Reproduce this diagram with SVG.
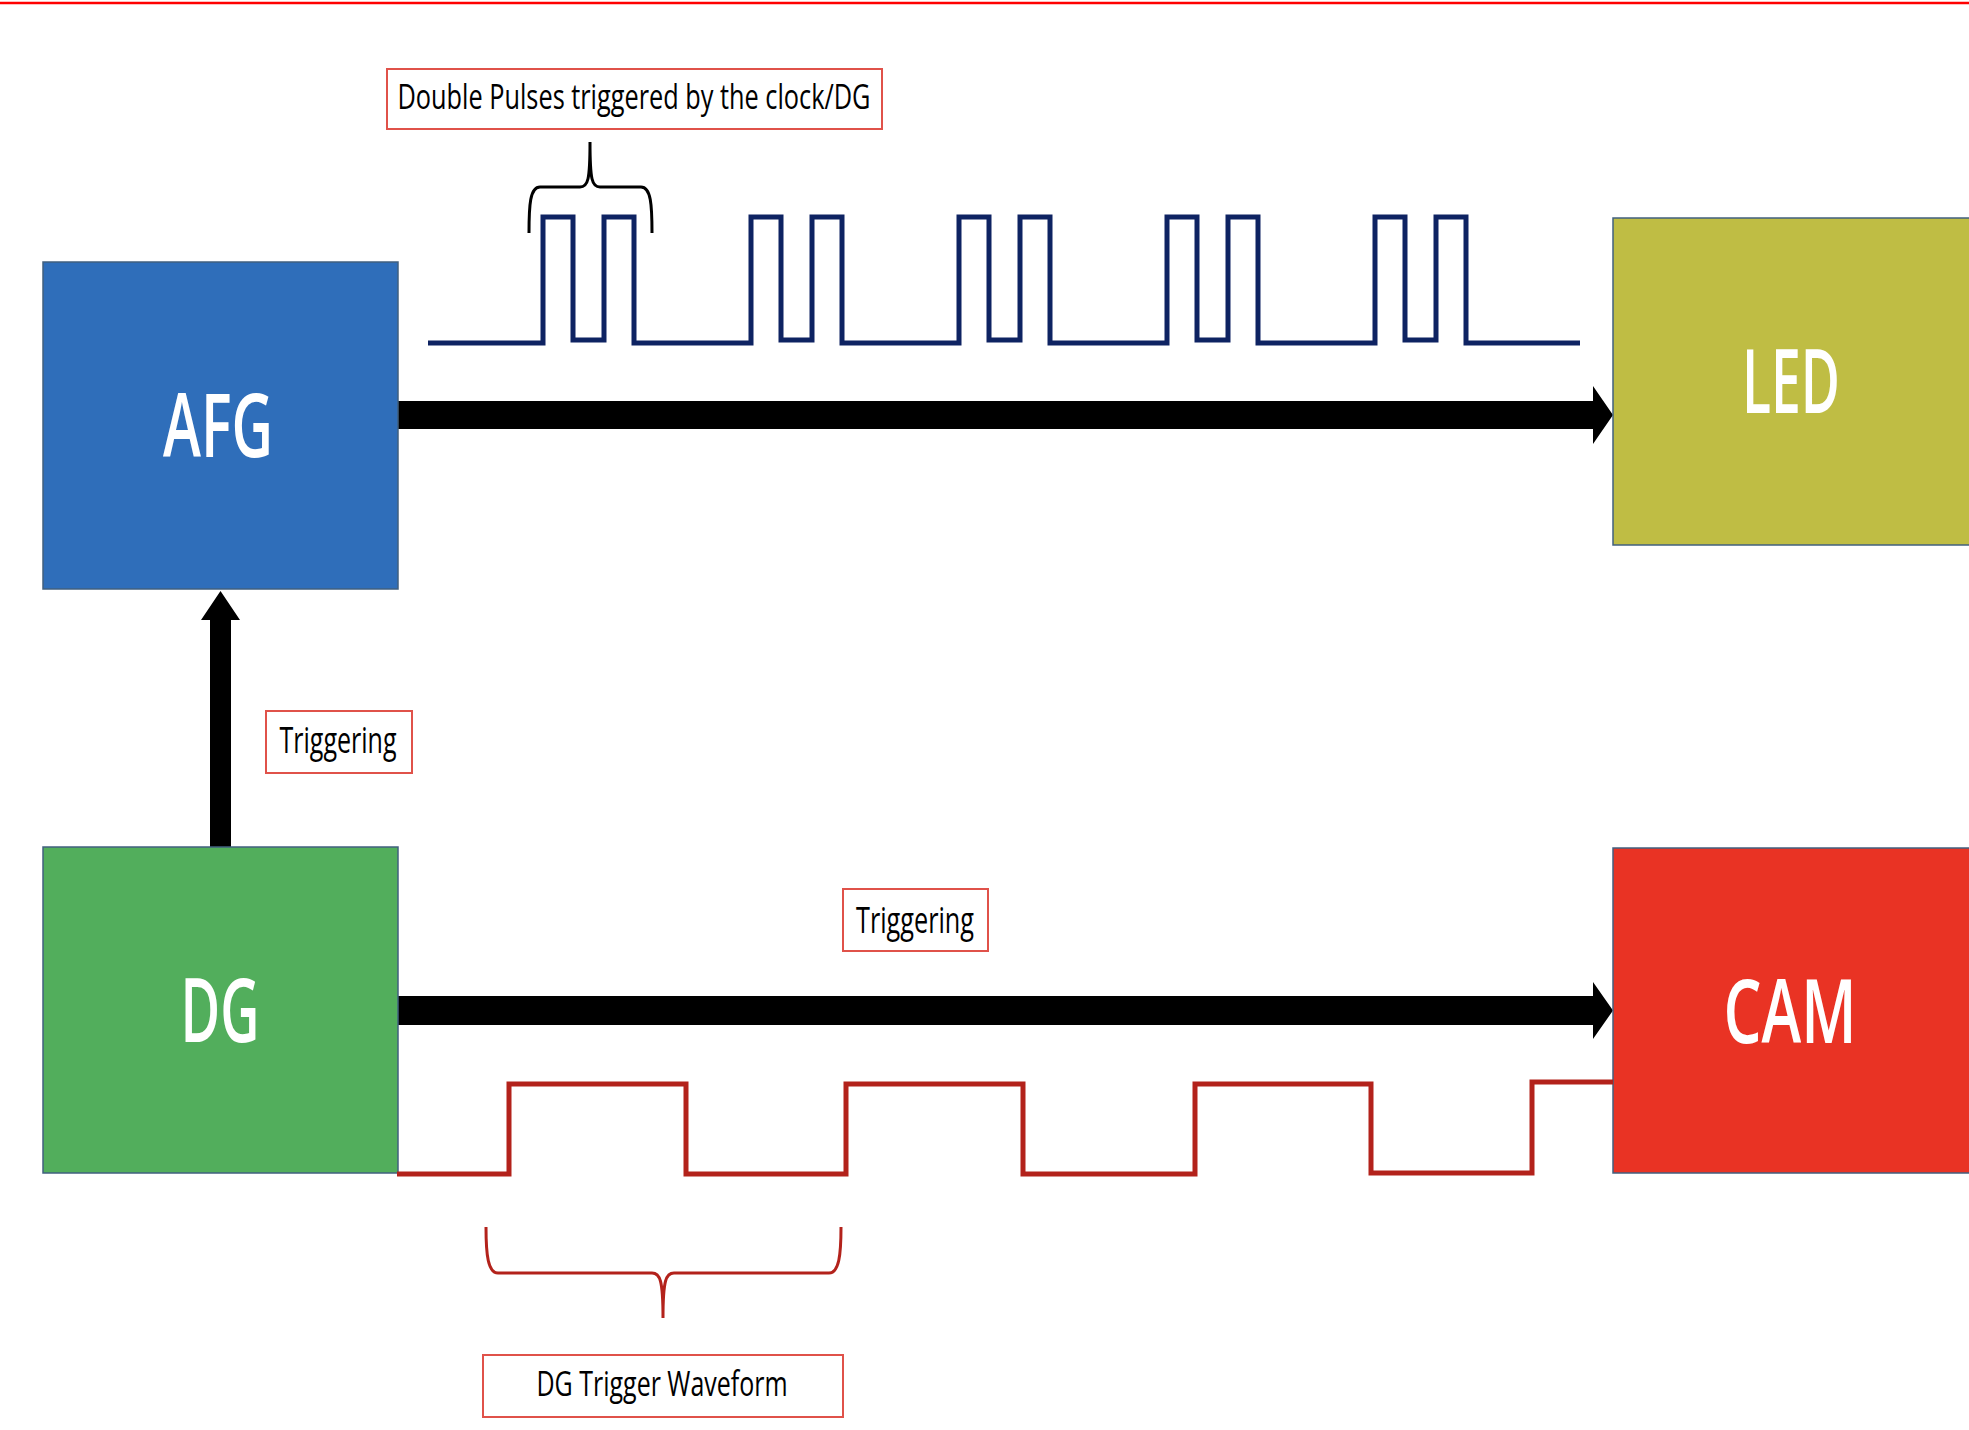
<svg xmlns="http://www.w3.org/2000/svg" width="1969" height="1430" viewBox="0 0 1969 1430">
<style>
  .node rect { stroke: #41607F; stroke-width: 1.5; }
  .big { font-family: "Open Sans", "Liberation Sans", sans-serif; font-size: 88px; font-weight: 600; fill: #FFFFFF; text-anchor: middle; }
  .lbl rect { fill: #FFFFFF; stroke: #E0524A; stroke-width: 2; }
  .lbl text { font-family: "Open Sans", "Liberation Sans", sans-serif; fill: #000000; text-anchor: middle; }
  .arrow { fill: #000000; }
  .wave-blue { fill: none; stroke: #0E2362; stroke-width: 5; stroke-linejoin: miter; }
  .wave-red { fill: none; stroke: #B3221B; stroke-width: 5; stroke-linejoin: miter; }
  .brace-black { fill: none; stroke: #000000; stroke-width: 3; }
  .brace-red { fill: none; stroke: #B3221B; stroke-width: 3; }
</style>
<rect x="0" y="0" width="1969" height="1430" fill="#FFFFFF"/>
<line x1="0" y1="3" x2="1969" y2="3" stroke="#FF0000" stroke-width="2.5"/>

<g id="connectors">
  <polygon class="arrow" points="398,401 1593,401 1593,386 1613,415 1593,444 1593,429 398,429"/>
  <polygon class="arrow" points="398,996 1593,996 1593,982 1613,1010.5 1593,1039 1593,1025 398,1025"/>
  <polygon class="arrow" points="210,847 210,620 201,620 220.5,591 240,620 231,620 231,847"/>
</g>

<g id="afg" class="node">
  <rect x="43" y="262" width="355" height="327" fill="#2F6EBA"/>
  <text class="big" x="218" y="457" textLength="110" lengthAdjust="spacingAndGlyphs">AFG</text>
</g>
<g id="dg" class="node">
  <rect x="43" y="847" width="355" height="326" fill="#52AE5C"/>
  <text class="big" x="220" y="1042" textLength="79" lengthAdjust="spacingAndGlyphs">DG</text>
</g>
<g id="led" class="node">
  <rect x="1613" y="218" width="360" height="327" fill="#BFBD44"/>
  <text class="big" x="1791" y="413" textLength="98" lengthAdjust="spacingAndGlyphs">LED</text>
</g>
<g id="cam" class="node">
  <rect x="1613" y="848" width="360" height="325" fill="#E93324"/>
  <text class="big" x="1790" y="1043" textLength="133" lengthAdjust="spacingAndGlyphs">CAM</text>
</g>

<g id="double-pulses-wave">
  <path class="wave-blue" d="M428,343 H543 V217 H573 V340 H604 V217 H634 V343 H751 V217 H781 V340 H812 V217 H842 V343 H959 V217 H989 V340 H1020 V217 H1050 V343 H1167 V217 H1197 V340 H1228 V217 H1258 V343 H1375 V217 H1405 V340 H1436 V217 H1466 V343 H1580"/>
  <path class="brace-black" d="M529,233 C529,205 530,187 540,187 H580 C588,187 590,180 590,142 C590,180 592,187 600,187 H641 C651,187 652,205 652,233"/>
</g>

<g id="dg-trigger-wave">
  <path class="wave-red" d="M397,1174 H509 V1084 H686 V1174 H846 V1084 H1023 V1174 H1195 V1084 H1371 V1173 H1532 V1082 H1613"/>
  <path class="brace-red" d="M486,1227 C486,1255 488,1273 498,1273 H652 C660,1273 663,1280 663,1318 C663,1280 666,1273 674,1273 H829 C839,1273 841,1255 841,1227"/>
</g>

<g id="label-double-pulses" class="lbl">
  <rect x="387" y="69" width="495" height="60"/>
  <text x="634" y="109" font-size="34" textLength="473" lengthAdjust="spacingAndGlyphs">Double Pulses triggered by the clock/DG</text>
</g>
<g id="label-triggering-1" class="lbl">
  <rect x="266" y="711" width="146" height="62"/>
  <text x="338" y="753" font-size="36" textLength="117" lengthAdjust="spacingAndGlyphs">Triggering</text>
</g>
<g id="label-triggering-2" class="lbl">
  <rect x="843" y="889" width="145" height="62"/>
  <text x="915" y="933" font-size="36" textLength="118" lengthAdjust="spacingAndGlyphs">Triggering</text>
</g>
<g id="label-dg-trigger" class="lbl">
  <rect x="483" y="1355" width="360" height="62"/>
  <text x="662" y="1396" font-size="34" textLength="251" lengthAdjust="spacingAndGlyphs">DG Trigger Waveform</text>
</g>
</svg>
